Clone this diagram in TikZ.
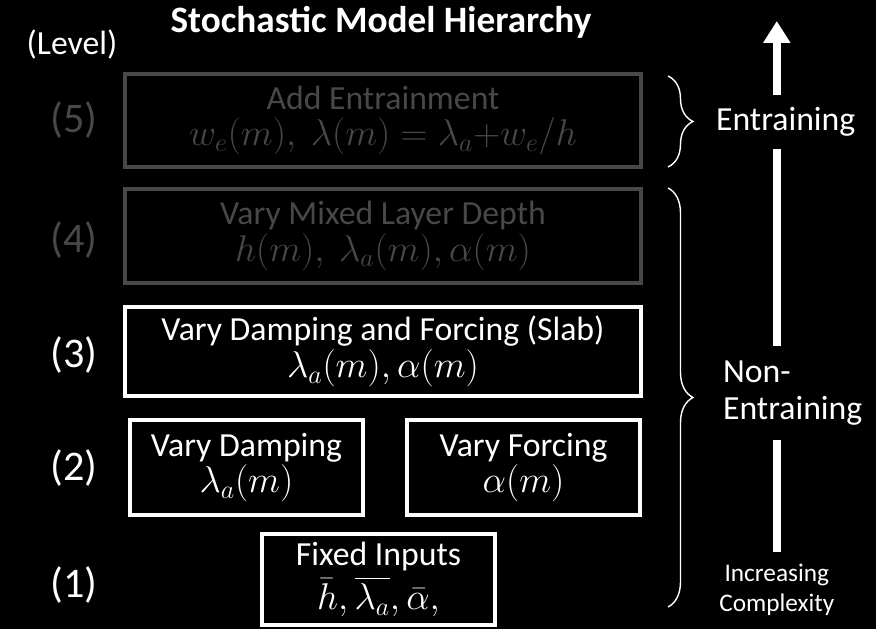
\RequirePackage{fix-cm}
\documentclass[tikz,border=0pt]{standalone}
\usepackage{fontspec}
\setmainfont{Carlito}
\usepackage{amsmath}
\usetikzlibrary{arrows.meta, positioning, decorations.pathreplacing, backgrounds}
\definecolor{fadegray}{RGB}{72,72,72}
\newcommand{\bxmath}[1]{{\fontsize{26.5}{26}\selectfont$#1$}}
\tikzset{
  bxW/.style={draw=white, text=white, rounded corners=0pt,
              minimum width=#1, minimum height=2.3cm, align=center,
              font=\fontsize{24}{26}\selectfont, line width=3pt, inner sep=0pt},
  bxF/.style={bxW=#1, draw=fadegray, text=fadegray},
  lvl/.style={text=white, font=\fontsize{30}{32}\selectfont},
  side/.style={text=white, fill=black, align=left, inner xsep=2pt,
               font=\fontsize{24}{26}\selectfont},
  brc/.style={draw=white, line width=1pt, decorate,
              decoration={brace, amplitude=0.625cm}},
  bigarr/.style={draw=white, line width=0.2cm,
                 -{Triangle[length=0.55cm, width=0.65cm]}},
}
\begin{document}
\begin{tikzpicture}
    \useasboundingbox (0,0) rectangle (21.9,15.725);

    \node[text=white, font=\bfseries\fontsize{26.5}{30}\selectfont] (title) at (9.525,15.175) {Stochastic Model Hierarchy};
    \node[text=white, font=\fontsize{24}{26}\selectfont] (level) at (1.8,14.6) {(Level)};

    % levels
    \node[bxF=12.9cm, minimum height=2.32cm] (entr) at (9.575,12.7125) {Add Entrainment\\\bxmath{w_e(m),\ \lambda(m) = \lambda_a{+}w_e/h}};
    \node[bxF=12.9cm, minimum height=2.35cm] (mld)  at (9.575,9.825)   {Vary Mixed Layer Depth\\\bxmath{h(m),\ \lambda_a(m), \alpha(m)}};
    \node[bxW=12.9cm, minimum height=2.22cm] (slab) at (9.575,6.9375)  {Vary Damping and Forcing (Slab)\\\bxmath{\lambda_a(m), \alpha(m)}};
    \node[bxW=5.82cm, minimum height=2.37cm] (damp) at (6.1625,4.04)   {Vary Damping\\\bxmath{\lambda_a(m)}};
    \node[bxW=5.82cm, minimum height=2.37cm] (forc) at (13.0875,4.04)  {Vary Forcing\\\bxmath{\alpha(m)}};
    \node[bxW=5.82cm, minimum height=2.27cm] (fix)  at (9.4625,1.2375) {Fixed Inputs\\[3pt]\bxmath{\bar{h}, \overline{\lambda_a}, \bar{\alpha},}};

    \node[lvl, text=fadegray] (l5) at (1.85,12.725) {(5)};
    \node[lvl, text=fadegray] (l4) at (1.85,9.725)  {(4)};
    \node[lvl] (l3) at (1.85,6.85)  {(3)};
    \node[lvl] (l2) at (1.85,4.025) {(2)};
    \node[lvl] (l1) at (1.85,1.1)   {(1)};

    % braces
    \coordinate (ebtop)  at (16.7,13.825);
    \coordinate (ebbot)  at (16.7,11.55);
    \coordinate (nebtop) at (16.7,11.025);
    \coordinate (nebbot) at (16.7,0.55);
    \draw[brc] (ebtop) -- (ebbot);
    \draw[brc] (nebtop) -- (nebbot);

    \node[side, anchor=west, inner ysep=9pt]  (ent)    at (17.825,12.675) {Entraining};
    \node[side, anchor=west, inner ysep=11pt] (nonent) at (18.0,5.9)      {Non-\\Entraining};
    \node[text=white, align=center, font=\fontsize{18}{21}\selectfont] (cplx) at (19.42,0.975) {Increasing\\Complexity};

    \coordinate (arrtop) at (19.42,15.2);
    \begin{scope}[on background layer]
      \fill[black] (0,0) rectangle (21.9,15.725);
      \draw[bigarr, shorten <=0.2cm] (cplx.north) -- (arrtop);
    \end{scope}
  \end{tikzpicture}
\end{document}
